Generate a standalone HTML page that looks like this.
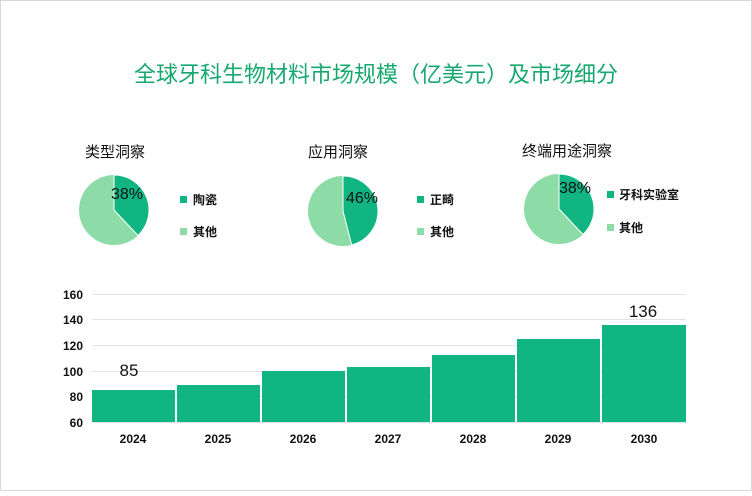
<!DOCTYPE html>
<html><head><meta charset="utf-8"><style>
body{margin:0;background:#fff}
svg text{font-family:"Liberation Sans","Noto Sans CJK SC",sans-serif}
</style></head><body>
<svg width="752" height="491" viewBox="0 0 752 491" xmlns="http://www.w3.org/2000/svg">
<rect x="0.5" y="0.5" width="751" height="490" fill="#fff" stroke="#d8d8d8"/>
<text x="376" y="82" text-anchor="middle" font-size="22" fill="#17a870" font-family="'Noto Serif CJK SC','Liberation Serif',serif">全球牙科生物材料市场规模（亿美元）及市场细分</text>
<g font-size="15" fill="#111">
<text x="85" y="157">类型洞察</text>
<text x="308" y="157">应用洞察</text>
<text x="522" y="156">终端用途洞察</text>
</g>
<!-- pie1 -->
<circle cx="114" cy="210" r="35" fill="#8ddca8"/>
<path d="M114 210 L114 175 A35 35 0 0 1 138 235.5 Z" fill="#10b582" stroke="#fff" stroke-width="1"/>
<text x="111" y="199" font-size="16" fill="#111" font-family="'Liberation Serif',serif">38%</text>
<!-- pie2 -->
<circle cx="343" cy="211" r="35" fill="#8ddca8"/>
<path d="M343 211 L343 176 A35 35 0 0 1 351.7 244.9 Z" fill="#10b582" stroke="#fff" stroke-width="1"/>
<text x="346" y="203" font-size="16" fill="#111" font-family="'Liberation Serif',serif">46%</text>
<!-- pie3 -->
<circle cx="559" cy="209" r="35" fill="#8ddca8"/>
<path d="M559 209 L559 174 A35 35 0 0 1 583 234.5 Z" fill="#10b582" stroke="#fff" stroke-width="1"/>
<text x="559" y="193" font-size="16" fill="#111" font-family="'Liberation Serif',serif">38%</text>
<g font-size="12" font-weight="bold" fill="#111">
<rect x="180" y="196" width="7" height="7" fill="#10b582"/><text x="193" y="204">陶瓷</text>
<rect x="180" y="228" width="7" height="7" fill="#8ddca8"/><text x="193" y="236">其他</text>
<rect x="417" y="196" width="7" height="7" fill="#10b582"/><text x="430" y="204">正畸</text>
<rect x="417" y="228" width="7" height="7" fill="#8ddca8"/><text x="430" y="236">其他</text>
<rect x="607" y="191" width="7" height="7" fill="#10b582"/><text x="619" y="199">牙科实验室</text>
<rect x="607" y="224" width="7" height="7" fill="#8ddca8"/><text x="619" y="232">其他</text>
</g>
<g stroke="#e2e2e2" stroke-width="1">
<line x1="92" y1="294.5" x2="686" y2="294.5"/>
<line x1="92" y1="319.5" x2="686" y2="319.5"/>
<line x1="92" y1="345.5" x2="686" y2="345.5"/>
<line x1="92" y1="371.5" x2="686" y2="371.5"/>
<line x1="92" y1="396.5" x2="686" y2="396.5"/>
<line x1="92" y1="422.5" x2="686" y2="422.5"/>
</g>
<g font-size="12" font-weight="bold" fill="#111" text-anchor="end">
<text x="83" y="299">160</text><text x="83" y="324">140</text><text x="83" y="350">120</text>
<text x="83" y="376">100</text><text x="83" y="401">80</text><text x="83" y="427">60</text>
</g>
<g fill="#10b582">
<rect x="92" y="390" width="83" height="32"/>
<rect x="177" y="385" width="83" height="37"/>
<rect x="262" y="371" width="83" height="51"/>
<rect x="347" y="367" width="83" height="55"/>
<rect x="432" y="355" width="83" height="67"/>
<rect x="517" y="339" width="83" height="83"/>
<rect x="602" y="325" width="84" height="97"/>
</g>
<g font-size="12" font-weight="bold" fill="#111" text-anchor="middle">
<text x="133" y="443">2024</text><text x="218" y="443">2025</text><text x="303" y="443">2026</text>
<text x="388" y="443">2027</text><text x="473" y="443">2028</text><text x="558" y="443">2029</text>
<text x="644" y="443">2030</text>
</g>
<g font-size="17" fill="#111" text-anchor="middle" font-family="'Liberation Serif',serif">
<text x="129" y="376">85</text><text x="643" y="317">136</text>
</g>
</svg>
</body></html>
